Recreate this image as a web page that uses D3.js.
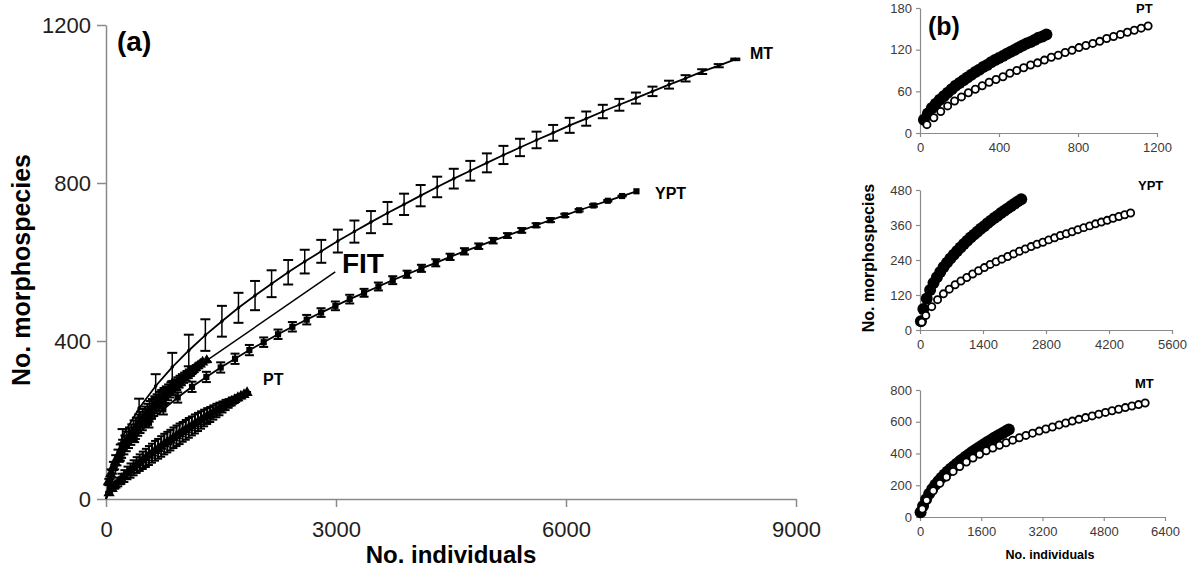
<!DOCTYPE html>
<html>
<head>
<meta charset="utf-8">
<script src="https://cdn.jsdelivr.net/npm/d3@7"></script>
<style>
  body { margin: 0; background: #fff; }
  svg { font-family: Arial, "Liberation Sans", Helvetica, sans-serif; }
  .axis path, .axis line { stroke: #8a8a8a; stroke-width: 1.5px; }
  .axis text { fill: #1e1e1e; }
  .axis-b text { fill: #3a3a3a; }
</style>
</head>
<body>
<svg id="chart" width="1196" height="572"></svg>
<script>
// ---- panel (a): rarefaction curves, mean +- error ----
const xTicksA = [0, 3000, 6000, 9000];
const yTicksA = [0, 400, 800, 1200];

const mtN = [0, 216, 432, 648, 864, 1080, 1296, 1512, 1728, 1944, 2160, 2376, 2592, 2808, 3024, 3240, 3456, 3672, 3888,
  4104, 4320, 4536, 4752, 4968, 5184, 5400, 5616, 5832, 6048, 6264, 6480, 6696, 6912, 7128, 7344, 7560, 7776, 7992, 8208];
const mtS = [0, 159, 230, 286, 334, 376, 415, 450, 484, 515, 545, 574, 601, 627, 653, 677, 701, 724, 746,
  768, 790, 811, 831, 851, 871, 890, 909, 927, 946, 963, 981, 998, 1015, 1032, 1049, 1065, 1082, 1097, 1113];
const mtErr = [0, 18, 24, 30, 36, 40, 40, 39, 38, 37, 34, 31, 30, 29, 29, 28, 28, 28, 27,
  27, 26, 25, 25, 24, 23, 22, 21, 20, 19, 18, 17, 15, 14, 12, 10, 8, 6, 4, 2];

const yptN = [0, 187, 374, 561, 748, 935, 1122, 1309, 1496, 1683, 1870, 2057, 2244, 2431, 2618, 2805, 2992, 3179, 3366,
  3553, 3740, 3927, 4114, 4301, 4488, 4675, 4862, 5049, 5236, 5423, 5610, 5797, 5984, 6171, 6358, 6545, 6732, 6919];
const yptS = [0, 105, 154, 193, 227, 257, 284, 309, 333, 355, 377, 397, 417, 436, 454, 472, 489, 506, 522,
  538, 554, 569, 584, 598, 613, 627, 640, 654, 667, 680, 693, 706, 718, 731, 743, 755, 767, 779];
const yptErr = [0, 8, 10, 12, 13, 13, 13, 13, 13, 13, 13, 12, 12, 12, 12, 11, 11, 11, 10,
  10, 10, 9, 9, 9, 8, 8, 7, 7, 6, 6, 5, 5, 4, 3, 3, 2, 1, 0];

const ptN = [0, 40, 80, 120, 160, 200, 240, 280, 320, 360, 400, 440, 480, 520, 560, 600, 640, 680, 720, 760, 800,
  840, 880, 920, 960, 1000, 1040, 1080, 1120, 1160, 1200, 1240, 1280, 1320, 1360, 1400, 1440, 1480, 1520, 1560,
  1600, 1640, 1680, 1720, 1760, 1800, 1840];
const ptS = [0, 15, 26, 35, 43, 51, 58, 66, 72, 79, 86, 92, 98, 104, 110, 116, 122, 127, 133, 139, 144,
  149, 155, 160, 165, 170, 175, 180, 185, 190, 195, 200, 205, 210, 214, 219, 224, 228, 233, 238,
  242, 247, 251, 256, 260, 264, 269];
const ptErr = [0, 3, 6, 9, 11, 13, 15, 16, 18, 19, 20, 21, 22, 23, 24, 24, 25, 25, 26, 26, 26,
  26, 26, 26, 26, 25, 25, 25, 24, 24, 23, 22, 21, 20, 19, 18, 17, 16, 14, 13, 11,
  10, 8, 7, 5, 4, 2];

const fitN = [0, 30, 60, 90, 120, 150, 180, 210, 240, 270, 300, 330, 360, 390, 420, 450, 480, 510, 540, 570, 600,
  630, 660, 690, 720, 750, 780, 810, 840, 870, 900, 930, 960, 990, 1020, 1050, 1080, 1110, 1140, 1170, 1200, 1230, 1260];
const fitS = [0, 43, 63, 79, 93, 105, 116, 127, 137, 146, 155, 163, 172, 179, 187, 194, 201, 208, 215, 222, 228,
  235, 241, 247, 253, 259, 264, 270, 276, 281, 286, 292, 297, 302, 307, 312, 317, 322, 327, 332, 337, 341, 346];
const fitErr = [0, 8, 12, 15, 18, 20, 22, 23, 24, 25, 26, 26, 27, 27, 27, 27, 27, 26, 26, 26, 25,
  25, 24, 24, 23, 22, 21, 20, 19, 18, 17, 16, 15, 14, 13, 12, 11, 10, 8, 7, 6, 5, 4];

// ---- panel (b): observed (filled) vs rarefied (open) ----
const ptbTicksX = [0, 400, 800, 1200];
const ptbTicksY = [0, 60, 120, 180];
const ptbFilledN = [20, 40, 60, 80, 100, 120, 140, 160, 180, 200, 220, 240, 260, 280, 300, 320,
  340, 360, 380, 400, 420, 440, 460, 480, 500, 520, 540, 560, 580, 600, 620, 640];
const ptbFilledS = [19, 28, 36, 42, 48, 53, 58, 63, 68, 72, 76, 80, 84, 88, 91, 95,
  98, 102, 105, 108, 111, 114, 117, 120, 123, 126, 129, 131, 134, 137, 139, 142];
const ptbOpenN = [35, 70, 105, 140, 175, 210, 245, 280, 315, 350, 385, 420, 455, 490, 525, 560, 595,
  630, 665, 700, 735, 770, 805, 840, 875, 910, 945, 980, 1015, 1050, 1085, 1120, 1155];
const ptbOpenS = [12, 22, 31, 39, 46, 52, 58, 63, 68, 73, 77, 81, 86, 90, 94, 98, 101,
  105, 109, 112, 116, 119, 123, 126, 129, 132, 136, 139, 142, 145, 148, 151, 154];

const yptbTicksX = [0, 1400, 2800, 4200, 5600];
const yptbTicksY = [0, 120, 240, 360, 480];
const yptbFilledN = [20, 75, 150, 225, 300, 375, 450, 525, 600, 675, 750, 825, 900, 975, 1050, 1125,
  1200, 1275, 1350, 1425, 1500, 1575, 1650, 1725, 1800, 1875, 1950, 2025, 2100, 2175, 2250];
const yptbFilledS = [30, 72, 108, 137, 161, 181, 199, 216, 231, 245, 258, 271, 283, 295, 306, 317,
  327, 337, 347, 356, 366, 375, 384, 392, 401, 409, 417, 425, 433, 441, 448];
const yptbOpenN = [40, 130, 260, 390, 520, 650, 780, 910, 1040, 1170, 1300, 1430, 1560, 1690, 1820, 1950,
  2080, 2210, 2340, 2470, 2600, 2730, 2860, 2990, 3120, 3250, 3380, 3510, 3640, 3770, 3900, 4030,
  4160, 4290, 4420, 4550, 4680];
const yptbOpenS = [27, 50, 80, 104, 124, 140, 155, 168, 180, 192, 203, 214, 225, 234, 243, 252,
  261, 270, 278, 286, 294, 301, 309, 316, 324, 330, 337, 344, 351, 357, 364, 370,
  376, 383, 389, 395, 401];

const mtbTicksX = [0, 1600, 3200, 4800, 6400];
const mtbTicksY = [0, 200, 400, 600, 800];
const mtbFilledN = [15, 80, 160, 240, 320, 400, 480, 560, 640, 720, 800, 880, 960, 1040, 1120, 1200,
  1280, 1360, 1440, 1520, 1600, 1680, 1760, 1840, 1920, 2000, 2080, 2160, 2240, 2320];
const mtbFilledS = [30, 70, 112, 147, 177, 203, 226, 247, 267, 286, 304, 320, 336, 352, 366, 381,
  395, 409, 422, 435, 447, 460, 472, 484, 496, 507, 518, 529, 540, 551];
const mtbOpenN = [60, 173, 346, 519, 692, 865, 1038, 1211, 1384, 1557, 1730, 1903, 2076, 2249, 2422, 2595,
  2768, 2941, 3114, 3287, 3460, 3633, 3806, 3979, 4152, 4325, 4498, 4671, 4844, 5017, 5190,
  5363, 5536, 5709, 5882];
const mtbOpenS = [50, 105, 165, 212, 252, 287, 318, 346, 372, 395, 417, 435, 452, 468, 484, 499,
  514, 528, 541, 554, 567, 580, 592, 604, 615, 626, 637, 648, 659, 669, 679,
  689, 699, 708, 718];

const svg = d3.select('#chart');
const zip = (n, s, e) => n.map((v, i) => ({ n: v, s: s[i], e: e ? e[i] : 0 }));

// ---------- panel (a) ----------
const xA = d3.scaleLinear().domain([0, 9000]).range([106, 796]);
const yA = d3.scaleLinear().domain([0, 1200]).range([499, 25]);

const gA = svg.append('g');

gA.append('g').attr('class', 'axis')
  .attr('transform', `translate(0,${yA(0)})`)
  .call(d3.axisBottom(xA).tickValues(xTicksA).tickFormat(d3.format('d')).tickSize(8).tickSizeOuter(0).tickPadding(14))
  .call(g => g.selectAll('text').attr('font-size', 22).attr('font-family', null));

gA.append('g').attr('class', 'axis')
  .attr('transform', `translate(${xA(0)},0)`)
  .call(d3.axisLeft(yA).tickValues(yTicksA).tickFormat(d3.format('d')).tickSize(9).tickSizeOuter(0).tickPadding(6))
  .call(g => g.selectAll('text').attr('font-size', 22).attr('font-family', null));

gA.append('text')
  .attr('x', (xA(0) + xA(9000)) / 2).attr('y', 563)
  .attr('text-anchor', 'middle').attr('font-size', 24).attr('font-weight', 'bold')
  .text('No. individuals');

gA.append('text')
  .attr('transform', 'translate(30,270) rotate(-90)')
  .attr('text-anchor', 'middle').attr('font-size', 25).attr('font-weight', 'bold')
  .text('No. morphospecies');

const lineA = d3.line().x(d => xA(d.n)).y(d => yA(d.s));

function drawSeries(data, opt) {
  const g = gA.append('g');
  g.append('path').datum(data)
    .attr('d', lineA).attr('fill', 'none').attr('stroke', '#000').attr('stroke-width', opt.lw);
  const bars = g.selectAll('.eb').data(data.filter(d => d.e > 0)).enter().append('g');
  bars.append('line')
    .attr('x1', d => xA(d.n)).attr('x2', d => xA(d.n))
    .attr('y1', d => yA(d.s - d.e)).attr('y2', d => yA(d.s + d.e))
    .attr('stroke', '#000').attr('stroke-width', opt.bw);
  [-1, 1].forEach(sign => {
    bars.append('line')
      .attr('x1', d => xA(d.n) - opt.cap / 2).attr('x2', d => xA(d.n) + opt.cap / 2)
      .attr('y1', d => yA(d.s + sign * d.e)).attr('y2', d => yA(d.s + sign * d.e))
      .attr('stroke', '#000').attr('stroke-width', 2);
  });
  const sym = d3.symbol().type(opt.symbol).size(opt.size);
  g.selectAll('.mk').data(data.slice(1)).enter().append('path')
    .attr('d', sym)
    .attr('transform', d => `translate(${xA(d.n)},${yA(d.s)})`)
    .attr('fill', '#000');
}

drawSeries(zip(ptN, ptS, ptErr), { lw: 1.4, bw: 2, cap: 8, symbol: d3.symbolTriangle, size: 55 });
drawSeries(zip(fitN, fitS, fitErr), { lw: 1.4, bw: 2, cap: 8, symbol: d3.symbolTriangle, size: 55 });
drawSeries(zip(yptN, yptS, yptErr), { lw: 1.8, bw: 1.8, cap: 9, symbol: d3.symbolSquare, size: 38 });
drawSeries(zip(mtN, mtS, mtErr), { lw: 1.8, bw: 1.5, cap: 10, symbol: d3.symbolCircle, size: 10 });

// FIT annotation arrow
svg.append('defs').append('marker')
  .attr('id', 'tri').attr('viewBox', '0 0 10 10').attr('refX', 9).attr('refY', 5)
  .attr('markerWidth', 7).attr('markerHeight', 7).attr('orient', 'auto')
  .append('path').attr('d', 'M0,0L10,5L0,10Z').attr('fill', '#000');

gA.append('line')
  .attr('x1', xA(2990)).attr('y1', yA(575))
  .attr('x2', xA(1250)).attr('y2', yA(342))
  .attr('stroke', '#000').attr('stroke-width', 1.5)
  .attr('marker-end', 'url(#tri)');

const labelA = [
  { t: 'MT', n: 8400, s: 1114, fs: 16 },
  { t: 'YPT', n: 7161, s: 759, fs: 16 },
  { t: 'PT', n: 2048, s: 289, fs: 16 },
  { t: 'FIT', n: 3078, s: 572, fs: 28 }
];
gA.selectAll('.lab').data(labelA).enter().append('text')
  .attr('x', d => xA(d.n)).attr('y', d => yA(d.s))
  .attr('font-size', d => d.fs).attr('font-weight', 'bold').text(d => d.t);

gA.append('text').attr('x', 117).attr('y', 51)
  .attr('font-size', 28).attr('font-weight', 'bold').text('(a)');

// ---------- panel (b) ----------
const panelsB = [
  { label: 'PT', xT: ptbTicksX, yT: ptbTicksY, x0: 920, x1: 1157, y0: 133, y1: 8,
    filled: zip(ptbFilledN, ptbFilledS), open: zip(ptbOpenN, ptbOpenS), lx: 1136, ly: 13 },
  { label: 'YPT', xT: yptbTicksX, yT: yptbTicksY, x0: 920, x1: 1172, y0: 330, y1: 190,
    filled: zip(yptbFilledN, yptbFilledS), open: zip(yptbOpenN, yptbOpenS), lx: 1138, ly: 190 },
  { label: 'MT', xT: mtbTicksX, yT: mtbTicksY, x0: 920, x1: 1165, y0: 517, y1: 390,
    filled: zip(mtbFilledN, mtbFilledS), open: zip(mtbOpenN, mtbOpenS), lx: 1135, ly: 388 }
];

panelsB.forEach(p => {
  const x = d3.scaleLinear().domain([0, d3.max(p.xT)]).range([p.x0, p.x1]);
  const y = d3.scaleLinear().domain([0, d3.max(p.yT)]).range([p.y0, p.y1]);
  const g = svg.append('g');

  g.append('g').attr('class', 'axis axis-b')
    .attr('transform', `translate(0,${p.y0})`)
    .call(d3.axisBottom(x).tickValues(p.xT).tickFormat(d3.format('d')).tickSize(4).tickSizeOuter(0).tickPadding(6))
    .call(a => a.selectAll('text').attr('font-size', 13).attr('font-family', null))
    .call(a => a.selectAll('path,line').style('stroke-width', '1.2px'));

  g.append('g').attr('class', 'axis axis-b')
    .attr('transform', `translate(${p.x0},0)`)
    .call(d3.axisLeft(y).tickValues(p.yT).tickFormat(d3.format('d')).tickSize(4).tickSizeOuter(0).tickPadding(4))
    .call(a => a.selectAll('text').attr('font-size', 13).attr('font-family', null))
    .call(a => a.selectAll('path,line').style('stroke-width', '1.2px'));

  g.selectAll('.f').data(p.filled).enter().append('circle')
    .attr('cx', d => x(d.n)).attr('cy', d => y(d.s)).attr('r', 6).attr('fill', '#000');

  g.selectAll('.o').data(p.open).enter().append('circle')
    .attr('cx', d => x(d.n)).attr('cy', d => y(d.s)).attr('r', 3.6)
    .attr('fill', '#fff').attr('stroke', '#000').attr('stroke-width', 1.8);

  g.append('text').attr('x', p.lx).attr('y', p.ly)
    .attr('font-size', 13).attr('font-weight', 'bold').text(p.label);
});

svg.append('text').attr('x', 928).attr('y', 35)
  .attr('font-size', 25).attr('font-weight', 'bold').text('(b)');

svg.append('text')
  .attr('transform', 'translate(874,258) rotate(-90)')
  .attr('text-anchor', 'middle').attr('font-size', 16).attr('font-weight', 'bold')
  .text('No. morphospecies');

svg.append('text')
  .attr('x', 1050).attr('y', 559)
  .attr('text-anchor', 'middle').attr('font-size', 12.5).attr('font-weight', 'bold')
  .text('No. individuals');
</script>
</body>
</html>
